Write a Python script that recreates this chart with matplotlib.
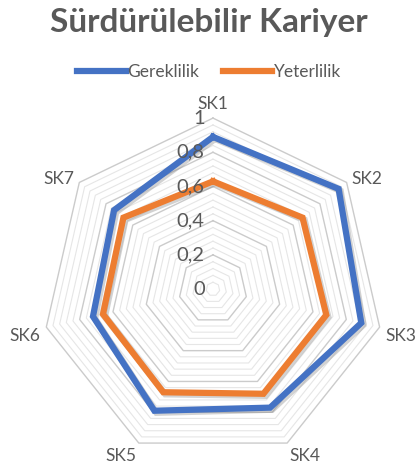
import numpy as np
import matplotlib
matplotlib.use("Agg")
import matplotlib.pyplot as plt
import matplotlib.patheffects as pe
from matplotlib.lines import Line2D

categories = ["SK1", "SK2", "SK3", "SK4", "SK5", "SK6", "SK7"]
gereklilik = [0.89, 0.94, 0.89, 0.77, 0.79, 0.72, 0.74]
yeterlilik = [0.63, 0.67, 0.68, 0.68, 0.67, 0.66, 0.67]
major_ticks = [0, 0.2, 0.4, 0.6, 0.8, 1.0]
major_labels = ["0", "0,2", "0,4", "0,6", "0,8", "1"]

BLUE = "#4472C4"
ORANGE = "#ED7D31"
TEXT = "#595959"

plt.rcParams["font.family"] = ["Lato", "DejaVu Sans"]

fig = plt.figure(figsize=(4.18, 4.69), dpi=100)
ax = fig.add_axes([0.1005, 0.0192, 0.818, 0.729], projection="polar")
ax.set_theta_zero_location("N")
ax.set_theta_direction(-1)
ax.set_ylim(0, 1)
ax.grid(False)
ax.spines["polar"].set_visible(False)
ax.set_xticks([])
ax.set_yticks([])
ax.patch.set_alpha(0)

angles = np.linspace(0, 2 * np.pi, len(categories), endpoint=False)
closed = np.append(angles, angles[0])

# polygon gridlines: minor every 0.04, major every 0.2
for lvl in np.arange(0.04, 1.0001, 0.04):
    major = abs(lvl / 0.2 - round(lvl / 0.2)) < 1e-6
    ax.plot(closed, [lvl] * len(closed), color="#CBCBCB" if major else "#E6E6E6",
            lw=1.0 if major else 0.8, zorder=1, clip_on=False)

shadow = [pe.SimpleLineShadow(offset=(1.5, -1.5), shadow_color="#7F7F7F", alpha=0.35), pe.Normal()]
for vals, col in [(gereklilik, BLUE), (yeterlilik, ORANGE)]:
    ax.plot(closed, vals + vals[:1], color=col, lw=4.5, solid_joinstyle="miter",
            zorder=3, path_effects=shadow, clip_on=False)

# category labels
for a, lab in zip(angles, categories):
    s, c = np.sin(a), np.cos(a)
    ha = "left" if s > 0.1 else ("right" if s < -0.1 else "center")
    va = "bottom" if c > 0.9 else ("top" if c < -0.1 else "center")
    ax.text(a, 1.035, lab, ha=ha, va=va, fontsize=12.5, color=TEXT)

# radial value labels
for v, lab in zip(major_ticks, major_labels):
    ax.annotate(lab, (0, v), xytext=(-6, 0), textcoords="offset points",
                ha="right", va="center", fontsize=14.5, color=TEXT)

fig.text(0.5, 0.951, "Sürdürülebilir Kariyer", ha="center", va="center",
         fontsize=24, fontweight="bold", color=TEXT)

handles = [Line2D([], [], color=BLUE, lw=4.5), Line2D([], [], color=ORANGE, lw=4.5)]
fig.legend(handles, ["Gereklilik", "Yeterlilik"], loc="center", bbox_to_anchor=(0.5, 0.846),
           ncol=2, frameon=False, fontsize=12.5, labelcolor=TEXT, handlelength=2.8,
           handletextpad=0.1, columnspacing=1.4)

fig.savefig("out.png", dpi=100)
